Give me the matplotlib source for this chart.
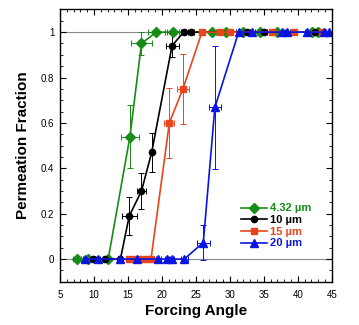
import matplotlib.pyplot as plt
from matplotlib.ticker import MultipleLocator
from matplotlib.lines import Line2D

# 4.32 um
g_x = [7.5, 9.2, 12.1, 15.3, 17.0, 19.2, 21.6, 27.4, 29.5, 32.0, 34.5, 36.9, 42.1, 43.0]
g_y = [0, 0, 0, 0.54, 0.95, 1, 1, 1, 1, 1, 1, 1, 1, 1]
g_ye = [0, 0, 0, 0.14, 0.05, 0, 0, 0, 0, 0, 0, 0, 0, 0]
g_xe = [0.6, 0.4, 0.3, 1.35, 1.5, 1.3, 0.9, 0.5, 0.5, 0.4, 0.5, 0.4, 0.4, 0.4]

# 10 um
k_x = [9.8, 11.6, 13.9, 15.2, 17.0, 18.5, 21.5, 23.2, 24.3, 32.5, 35.1, 42.6]
k_y = [0, 0, 0, 0.19, 0.30, 0.47, 0.94, 1, 1, 1, 1, 1]
k_ye = [0, 0, 0, 0.085, 0.08, 0.085, 0.05, 0, 0, 0, 0, 0]
k_xe = [0.3, 0.3, 0.3, 1.1, 0.7, 0.3, 0.95, 0.4, 0.4, 0.4, 0.4, 0.4]

# 15 um
r_x = [15.2, 16.0, 17.0, 17.8, 18.4, 21.1, 23.1, 25.9, 28.5, 30.1, 36.2, 39.4, 43.6]
r_y = [0, 0, 0, 0, 0, 0.60, 0.75, 1, 1, 1, 1, 1, 1]
r_ye = [0, 0, 0, 0, 0, 0.155, 0.155, 0, 0, 0, 0, 0, 0]
r_xe = [0.3, 0.3, 0.3, 0.3, 0.3, 0.75, 0.85, 0.4, 0.4, 0.4, 0.4, 0.4, 0.4]

# 20 um
b_x = [8.7, 10.6, 13.8, 16.4, 19.5, 20.7, 21.5, 23.3, 26.1, 27.8, 31.3, 33.3, 37.7, 38.4, 41.4, 43.8, 44.6]
b_y = [0, 0, 0, 0, 0, 0, 0, 0, 0.073, 0.668, 1, 1, 1, 1, 1, 1, 1]
b_ye = [0, 0, 0, 0, 0, 0, 0, 0, 0.075, 0.27, 0, 0, 0, 0, 0, 0, 0]
b_xe = [0.3, 0.3, 0.3, 0.3, 0.3, 0.3, 0.3, 0.5, 0.95, 0.9, 0.4, 0.4, 0.4, 0.4, 0.4, 0.4, 0.4]

labels = ['4.32 µm', '10 µm', '15 µm', '20 µm']
colors = ['#178c17', 'black', '#e8451c', '#0a14e0']
markers = ['D', 'o', 's', '^']
msizes = [5, 4.5, 5, 6]

plt.rcParams['font.family'] = ['Liberation Sans', 'DejaVu Sans']
fig = plt.figure(figsize=(3.59, 3.25), dpi=100)
ax = fig.add_axes([0.167, 0.133, 0.757, 0.838])

ax.axhline(0, color='#888888', lw=0.8, zorder=0)
ax.axhline(1, color='#888888', lw=0.8, zorder=0)

series = [(g_x, g_y, g_xe, g_ye), (k_x, k_y, k_xe, k_ye),
          (r_x, r_y, r_xe, r_ye), (b_x, b_y, b_xe, b_ye)]
for (x, y, xe, ye), c, m, ms in zip(series, colors, markers, msizes):
    ax.errorbar(x, y, xerr=xe, yerr=ye, color=c, marker=m, ms=ms, lw=1.2,
                elinewidth=0.7, capsize=2, capthick=0.7)

ax.set_xlim(5, 45)
ax.set_ylim(-0.1, 1.1)
ax.xaxis.set_major_locator(MultipleLocator(5))
ax.xaxis.set_minor_locator(MultipleLocator(1))
ax.yaxis.set_major_locator(MultipleLocator(0.2))
ax.yaxis.set_minor_locator(MultipleLocator(0.05))
ax.set_yticks([0, 0.2, 0.4, 0.6, 0.8, 1])
ax.set_yticklabels(['0', '0.2', '0.4', '0.6', '0.8', '1'])
ax.tick_params(which='both', direction='in', top=True, right=True, labelsize=7)
ax.tick_params(which='major', length=4)
ax.tick_params(which='minor', length=2)
ax.tick_params(axis='y', which='major', pad=4)
ax.tick_params(axis='x', which='major', pad=6)
for s in ax.spines.values():
    s.set_linewidth(1.0)

ax.set_xlabel('Forcing Angle', fontsize=11, fontweight='bold', labelpad=3)
ax.set_ylabel('Permeation Fraction', fontsize=11, fontweight='bold', labelpad=8)

handles = [Line2D([], [], color=c, marker=m, ms=ms, lw=1.2) for c, m, ms in zip(colors, markers, msizes)]
leg = ax.legend(handles, labels, loc='center left', bbox_to_anchor=(0.645, 0.205),
                frameon=False, fontsize=8, handlelength=2.4, handletextpad=0.2,
                labelspacing=0.15, borderpad=0)
for t, c in zip(leg.get_texts(), colors):
    t.set_color(c)
    t.set_fontweight('bold')

fig.savefig('out.png', dpi=100)
